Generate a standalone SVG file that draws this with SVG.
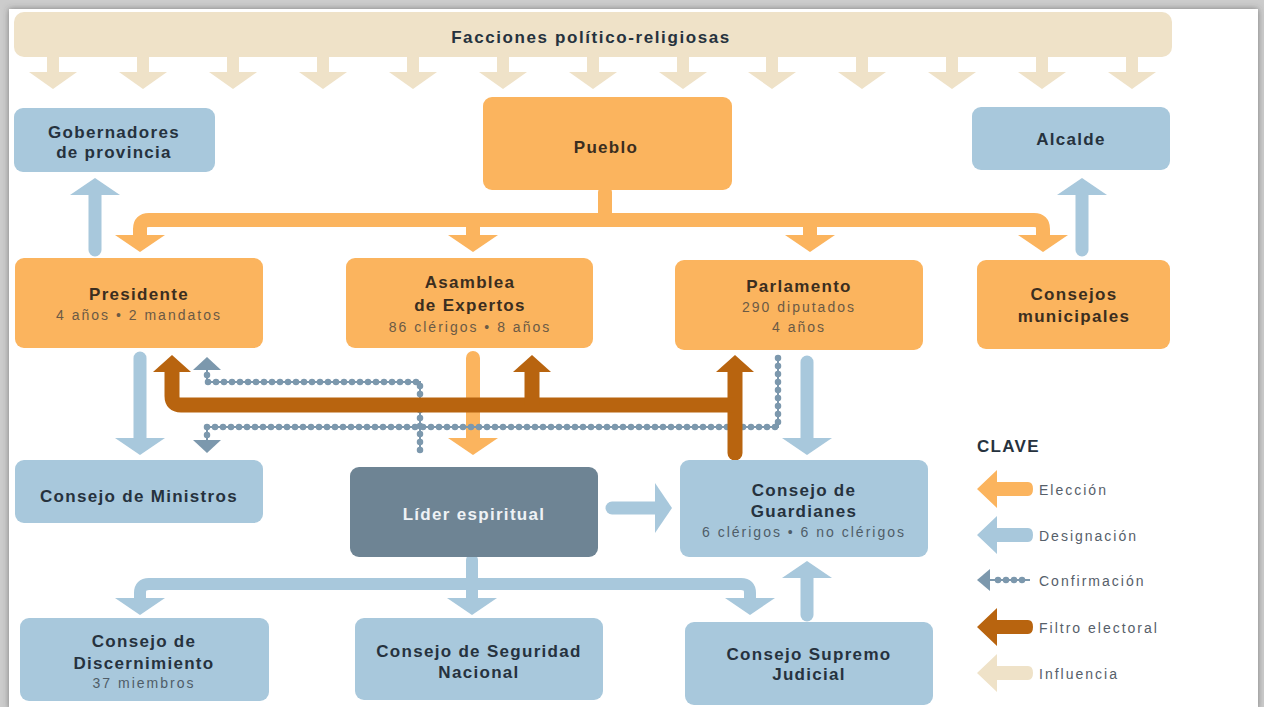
<svg xmlns="http://www.w3.org/2000/svg" width="1264" height="707" viewBox="0 0 1264 707">
<defs>
<style>
.t{font-family:"Liberation Sans",Arial,sans-serif;font-weight:bold;font-size:17px;letter-spacing:1.3px;text-anchor:middle}
.s{font-family:"Liberation Sans",Arial,sans-serif;font-size:14px;letter-spacing:2px;text-anchor:middle}
.lg{font-family:"Liberation Sans",Arial,sans-serif;font-size:14px;letter-spacing:2px;fill:#56606a}
.on-or{fill:#3b2e1f}.sub-or{fill:#6b5a45}
.on-bl{fill:#26323e}.sub-bl{fill:#4f5d68}
.or{fill:#fbb45e}.bl{fill:#a8c8dc}.dk{fill:#6e8494}
.a-or{fill:none;stroke:#fbb45e;stroke-width:14;stroke-linecap:round;stroke-linejoin:round}
.a-bl{fill:none;stroke:#a8c8dc;stroke-width:13;stroke-linecap:round;stroke-linejoin:round}
.a-bg{fill:none;stroke:#efe2c8;stroke-width:12}
.a-br{fill:none;stroke:#b8640f;stroke-width:15;stroke-linejoin:round}
.cf-l{fill:none;stroke:#7c98ad;stroke-width:2}
.cf-d{fill:none;stroke:#7c98ad;stroke-width:6.5;stroke-linecap:round;stroke-dasharray:0 8}
</style>
<filter id="sh" x="-5%" y="-5%" width="110%" height="110%"><feDropShadow dx="0" dy="0" stdDeviation="3" flood-color="#444" flood-opacity="0.6"/></filter>
<marker id="h-or" viewBox="0 -25 17 50" markerWidth="17" markerHeight="50" refX="0" refY="0" orient="auto-start-reverse" markerUnits="userSpaceOnUse"><path d="M0,-25 L17,0 L0,25 Z" fill="#fbb45e"/></marker>
<marker id="h-bl" viewBox="0 -25 17 50" markerWidth="17" markerHeight="50" refX="0" refY="0" orient="auto-start-reverse" markerUnits="userSpaceOnUse"><path d="M0,-25 L17,0 L0,25 Z" fill="#a8c8dc"/></marker>
<marker id="h-bg" viewBox="0 -24 17 48" markerWidth="17" markerHeight="48" refX="0" refY="0" orient="auto" markerUnits="userSpaceOnUse"><path d="M0,-24 L17,0 L0,24 Z" fill="#efe2c8"/></marker>
<marker id="h-br" viewBox="0 -19 17 38" markerWidth="17" markerHeight="38" refX="0" refY="0" orient="auto" markerUnits="userSpaceOnUse"><path d="M0,-19 L17,0 L0,19 Z" fill="#b8640f"/></marker>
<marker id="h-cf" viewBox="0 -14 13 28" markerWidth="13" markerHeight="28" refX="0" refY="0" orient="auto" markerUnits="userSpaceOnUse"><path d="M0,-14 L13,0 L0,14 Z" fill="#7c98ad"/></marker>
</defs>

<rect x="0" y="0" width="1264" height="707" fill="#cccccc"/>
<rect x="9" y="9" width="1249" height="700" fill="#ffffff" filter="url(#sh)"/>

<g id="facciones">
<rect x="14" y="12" width="1158" height="45" rx="10" fill="#efe2c8"/>
<text class="t on-bl" x="591" y="43" style="letter-spacing:1.6px">Facciones político-religiosas</text>
</g>

<g id="connectors">
<!-- influence arrows -->
<path class="a-bg" d="M53,55 V72" marker-end="url(#h-bg)"/>
<path class="a-bg" d="M143,55 V72" marker-end="url(#h-bg)"/>
<path class="a-bg" d="M233,55 V72" marker-end="url(#h-bg)"/>
<path class="a-bg" d="M323,55 V72" marker-end="url(#h-bg)"/>
<path class="a-bg" d="M413,55 V72" marker-end="url(#h-bg)"/>
<path class="a-bg" d="M503,55 V72" marker-end="url(#h-bg)"/>
<path class="a-bg" d="M593,55 V72" marker-end="url(#h-bg)"/>
<path class="a-bg" d="M683,55 V72" marker-end="url(#h-bg)"/>
<path class="a-bg" d="M772,55 V72" marker-end="url(#h-bg)"/>
<path class="a-bg" d="M862,55 V72" marker-end="url(#h-bg)"/>
<path class="a-bg" d="M952,55 V72" marker-end="url(#h-bg)"/>
<path class="a-bg" d="M1042,55 V72" marker-end="url(#h-bg)"/>
<path class="a-bg" d="M1132,55 V72" marker-end="url(#h-bg)"/>

<!-- elections from Pueblo -->
<path class="a-or" d="M605,192 V220"/>
<path class="a-or" style="stroke-linecap:butt" d="M140,235 V229 Q140,220 149,220 H1034 Q1043,220 1043,229 V235" marker-start="url(#h-or)" marker-end="url(#h-or)"/>
<path class="a-or" style="stroke-linecap:butt" d="M473,220 V235" marker-end="url(#h-or)"/>
<path class="a-or" style="stroke-linecap:butt" d="M810,220 V235" marker-end="url(#h-or)"/>

<!-- designations up -->
<path class="a-bl" d="M95,250 V195" marker-end="url(#h-bl)"/>
<path class="a-bl" d="M1082,250 V195" marker-end="url(#h-bl)"/>

<!-- row 2 to row 3 -->
<path class="a-bl" d="M140,358 V438" marker-end="url(#h-bl)"/>
<path class="a-or" d="M473,358 V438" marker-end="url(#h-or)"/>
<path class="a-bl" d="M807,362 V438" marker-end="url(#h-bl)"/>

<!-- confirmation -->
<path class="cf-l" d="M420,450 V382 H207 V370" marker-end="url(#h-cf)"/>
<path class="cf-d" d="M420,450 V382 H207 V372"/>
<path class="cf-l" d="M778,358 V427 H207 V440" marker-end="url(#h-cf)"/>
<path class="cf-d" d="M778,358 V427 H207 V438"/>

<!-- electoral filter -->
<path class="a-br" d="M735,453 V372" style="stroke-linecap:round" marker-end="url(#h-br)"/>
<path class="a-br" d="M735,405 H181 Q172,405 172,396 V372" marker-end="url(#h-br)"/>
<path class="a-br" d="M532,405 V372" marker-end="url(#h-br)"/>

<!-- leader -->
<path class="a-bl" d="M612,508 H655" marker-end="url(#h-bl)"/>
<path class="a-bl" style="stroke-width:12" d="M472,560 V584"/>
<path class="a-bl" style="stroke-width:12;stroke-linecap:butt" d="M140,598 V593 Q140,584 149,584 H741 Q750,584 750,593 V598" marker-start="url(#h-bl)" marker-end="url(#h-bl)"/>
<path class="a-bl" style="stroke-width:12;stroke-linecap:butt" d="M472,584 V598" marker-end="url(#h-bl)"/>
<path class="a-bl" d="M807,615 V578" marker-end="url(#h-bl)"/>
</g>

<g id="gobernadores">
<rect class="bl" x="14" y="108" width="201" height="64" rx="9"/>
<text class="t on-bl" x="114" y="138">Gobernadores</text>
<text class="t on-bl" x="114" y="158">de provincia</text>
</g>

<g id="pueblo">
<rect class="or" x="483" y="97" width="249" height="93" rx="9"/>
<text class="t on-or" x="606" y="153">Pueblo</text>
</g>

<g id="alcalde">
<rect class="bl" x="972" y="107" width="198" height="63" rx="9"/>
<text class="t on-bl" x="1071" y="145">Alcalde</text>
</g>

<g id="presidente">
<rect class="or" x="15" y="258" width="248" height="90" rx="9"/>
<text class="t on-or" x="139" y="300">Presidente</text>
<text class="s sub-or" x="139" y="320">4 años • 2 mandatos</text>
</g>

<g id="asamblea">
<rect class="or" x="346" y="258" width="247" height="90" rx="9"/>
<text class="t on-or" x="470" y="288">Asamblea</text>
<text class="t on-or" x="470" y="311">de Expertos</text>
<text class="s sub-or" x="470" y="332">86 clérigos • 8 años</text>
</g>

<g id="parlamento">
<rect class="or" x="675" y="260" width="248" height="90" rx="9"/>
<text class="t on-or" x="799" y="292">Parlamento</text>
<text class="s sub-or" x="799" y="312">290 diputados</text>
<text class="s sub-or" x="799" y="332">4 años</text>
</g>

<g id="consejos-municipales">
<rect class="or" x="977" y="260" width="193" height="89" rx="9"/>
<text class="t on-or" x="1074" y="300">Consejos</text>
<text class="t on-or" x="1074" y="322">municipales</text>
</g>

<g id="ministros">
<rect class="bl" x="15" y="460" width="248" height="63" rx="9"/>
<text class="t on-bl" x="139" y="502">Consejo de Ministros</text>
</g>

<g id="lider">
<rect class="dk" x="350" y="467" width="248" height="90" rx="9"/>
<text class="t" x="474" y="520" fill="#eef2f5">Líder espiritual</text>
</g>

<g id="guardianes">
<rect class="bl" x="680" y="460" width="248" height="97" rx="9"/>
<text class="t on-bl" x="804" y="496">Consejo de</text>
<text class="t on-bl" x="804" y="517">Guardianes</text>
<text class="s sub-bl" x="804" y="537">6 clérigos • 6 no clérigos</text>
</g>

<g id="discernimiento">
<rect class="bl" x="20" y="618" width="249" height="83" rx="9"/>
<text class="t on-bl" x="144" y="647">Consejo de</text>
<text class="t on-bl" x="144" y="669">Discernimiento</text>
<text class="s sub-bl" x="144" y="688">37 miembros</text>
</g>

<g id="seguridad">
<rect class="bl" x="355" y="618" width="248" height="82" rx="9"/>
<text class="t on-bl" x="479" y="657">Consejo de Seguridad</text>
<text class="t on-bl" x="479" y="678">Nacional</text>
</g>

<g id="judicial">
<rect class="bl" x="685" y="622" width="248" height="83" rx="9"/>
<text class="t on-bl" x="809" y="660">Consejo Supremo</text>
<text class="t on-bl" x="809" y="680">Judicial</text>
</g>

<g id="clave">
<text class="t on-bl" x="977" y="452" style="text-anchor:start">CLAVE</text>
<path d="M977,489 L997,470 V482 H1028 Q1033,482 1033,489 Q1033,496 1028,496 H997 V508 Z" fill="#fbb45e"/>
<text class="lg" x="1039" y="495">Elección</text>
<path d="M977,535 L997,516 V528 H1028 Q1033,528 1033,535 Q1033,542 1028,542 H997 V554 Z" fill="#a8c8dc"/>
<text class="lg" x="1039" y="541">Designación</text>
<path d="M977,580 L990,569 V591 Z" fill="#7c98ad"/>
<path class="cf-l" d="M990,580 H1030"/>
<path class="cf-d" d="M998,580 H1030"/>
<text class="lg" x="1039" y="586">Confirmación</text>
<path d="M977,627 L997,608 V620 H1028 Q1033,620 1033,627 Q1033,634 1028,634 H997 V646 Z" fill="#b8640f"/>
<text class="lg" x="1039" y="633">Filtro electoral</text>
<path d="M977,673 L997,654 V666 H1028 Q1033,666 1033,673 Q1033,680 1028,680 H997 V692 Z" fill="#efe2c8"/>
<text class="lg" x="1039" y="679">Influencia</text>
</g>
</svg>
